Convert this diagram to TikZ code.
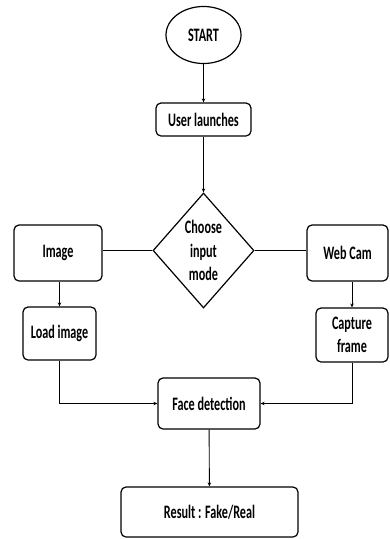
\documentclass[tikz,border=0pt]{standalone}
\usepackage{fontspec}
\setmainfont{Carlito}[FakeStretch=0.64]
\usetikzlibrary{shapes.geometric,arrows.meta}
\begin{document}
\begin{tikzpicture}[x=1pt,y=-1pt,
  lab/.style={font=\fontsize{19}{23.5}\selectfont\bfseries, align=center, inner sep=0},
  box/.style={lab, draw, line width=1.2pt, rounded corners=5pt},
  conn/.style={line width=0.9pt},
  arr/.style={conn, -{Stealth[length=4pt,width=3.5pt]}}]
\useasboundingbox (0,0) rectangle (389,539);
\node[lab, draw, line width=1.2pt, ellipse, minimum width=75pt, minimum height=57pt] (start) at (203.5,35) {START};
\node[box, minimum width=95pt, minimum height=33pt] (user) at (203.5,119.5) {User launches};
\node[lab, draw, line width=1.2pt, diamond, minimum width=101pt, minimum height=115pt] (choose) at (203.5,250.5) {Choose\\input\\mode};
\node[box, minimum width=88pt, minimum height=56pt] (image) at (58,253) {Image};
\node[box, minimum width=81pt, minimum height=56pt] (webcam) at (347.5,253) {Web Cam};
\node[box, minimum width=73pt, minimum height=53pt] (load) at (59.5,333.5) {Load image};
\node[box, minimum width=72pt, minimum height=54pt] (capture) at (352,335) {Capture\\frame};
\node[box, minimum width=102pt, minimum height=51pt] (face) at (209,403.5) {Face detection};
\node[box, minimum width=177pt, minimum height=50pt] (result) at (209.5,512) {Result : Fake/Real};
\draw[arr] (start) -- (user);
\draw[arr] (user) -- (choose);
\draw[conn] (choose.west) -- (image.east |- choose.west);
\draw[conn] (choose.east) -- (webcam.west |- choose.east);
\draw[arr] (image.south -| load.north) -- (load.north);
\draw[arr] (webcam.south -| capture.north) -- (capture.north);
\draw[arr] (load.south) |- (face.west);
\draw[arr] (capture.south) |- (face.east);
\draw[arr] (face) -- (result);
\end{tikzpicture}
\end{document}
